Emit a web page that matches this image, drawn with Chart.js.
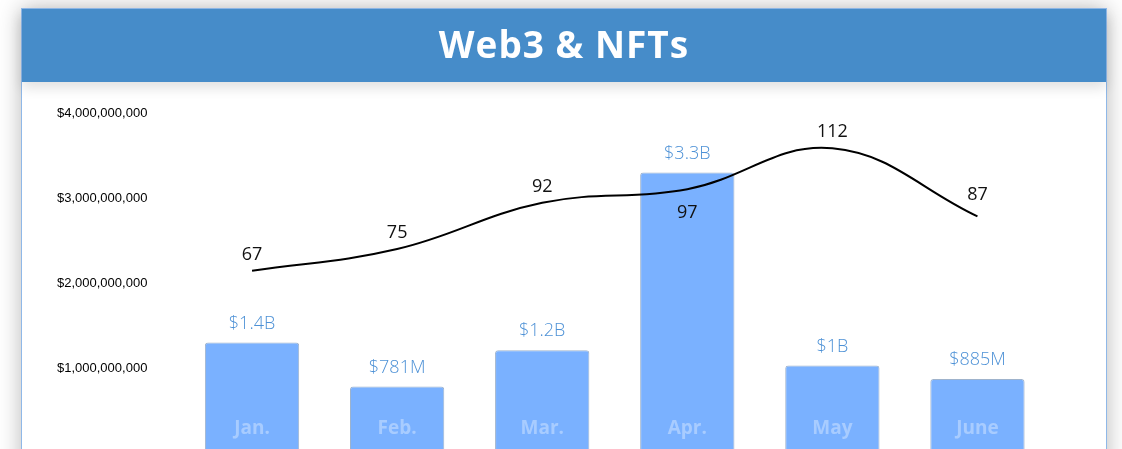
<!DOCTYPE html>
<html>
<head>
<meta charset="utf-8">
<script src="https://cdn.jsdelivr.net/npm/chart.js@4.4.1/dist/chart.umd.min.js"></script>
<style>
  html, body { margin: 0; padding: 0; background: #fff; overflow: hidden; }
  .card {
    position: absolute; left: 21px; top: 8px; width: 1084px; height: 600px;
    border: 1px solid #8fb8e8; background: #fff;
    box-shadow: 0 0 22px rgba(0,0,0,0.28);
  }
  .head {
    height: 73px; background: #468cc9; color: #fff;
    font-family: 'Open Sans', 'DejaVu Sans', sans-serif; font-weight: 700; font-size: 37px;
    letter-spacing: 1px; padding-bottom: 4px; box-sizing: border-box;
    display: flex; align-items: center; justify-content: center;
    box-shadow: 0 6px 12px rgba(0,0,0,0.12); position: relative; z-index: 1;
  }
  .wrap { position: absolute; left: 0; top: 73px; width: 1084px; height: 400px; }
</style>
</head>
<body>
<div class="card">
  <div class="head">Web3 &amp; NFTs</div>
  <div class="wrap"><canvas id="c"></canvas></div>
</div>
<script>
const months = ['Jan.', 'Feb.', 'Mar.', 'Apr.', 'May', 'June'];
const volume = [1.3e9, 0.781e9, 1.21e9, 3.3e9, 1.03e9, 0.87e9];
const volumeLabels = ['$1.4B', '$781M', '$1.2B', '$3.3B', '$1B', '$885M'];
const sales = [67, 75, 92, 97, 112, 87];
const yTicks = [1e9, 2e9, 3e9, 4e9];

const labelFont = "'Open Sans', 'DejaVu Sans', sans-serif";

// draws the value labels and the month names inside the bars
const labelPlugin = {
  id: 'labels',
  afterDatasetsDraw(chart) {
    const ctx = chart.ctx;
    const pts = chart.getDatasetMeta(0).data;
    const bars = chart.getDatasetMeta(1).data;
    ctx.save();
    ctx.textAlign = 'center';
    ctx.textBaseline = 'middle';
    bars.forEach((b, i) => {
      ctx.font = '700 19px ' + labelFont;
      ctx.fillStyle = 'rgba(255,255,255,0.35)';
      ctx.fillText(months[i], b.x, b.base - 24);
      ctx.font = '300 18px ' + labelFont;
      ctx.fillStyle = '#4d91d6';
      ctx.fillText(volumeLabels[i], b.x, b.y - 19);
    });
    pts.forEach((p, i) => {
      ctx.font = '400 18px ' + labelFont;
      ctx.fillStyle = '#111';
      let dy = -16;
      if (i === 3) dy = 24;
      if (i === 5) dy = -21;
      ctx.fillText(String(sales[i]), p.x, p.y + dy);
    });
    ctx.restore();
  }
};

new Chart(document.getElementById('c'), {
  data: {
    labels: months,
    datasets: [
      {
        type: 'line',
        data: sales,
        yAxisID: 'y2',
        borderColor: '#000',
        borderWidth: 2,
        pointRadius: 0,
        tension: 0.4,
        fill: false,
        order: 0
      },
      {
        type: 'bar',
        data: volume,
        yAxisID: 'y',
        backgroundColor: '#7ab1ff',
        borderColor: '#9fb3cc',
        borderWidth: 1,
        borderRadius: 3,
        borderSkipped: 'bottom',
        barPercentage: 0.65,
        categoryPercentage: 1,
        order: 1
      }
    ]
  },
  options: {
    responsive: true,
    maintainAspectRatio: false,
    animation: false,
    layout: { padding: { left: 35, right: 56, top: 31, bottom: 29 } },
    plugins: { legend: { display: false }, tooltip: { enabled: false } },
    scales: {
      x: { display: false },
      y: {
        min: 0, max: 4e9,
        afterBuildTicks(s) { s.ticks = yTicks.map(v => ({ value: v })); },
        afterFit(s) { s.width = 122.5; },
        grid: { display: false },
        border: { display: false },
        ticks: {
          crossAlign: 'far',
          color: '#000',
          font: { family: "'Liberation Sans', Arial, sans-serif", size: 13 },
          callback: v => '$' + Number(v).toLocaleString('en-US')
        }
      },
      y2: { display: false, min: 0, max: 125 }
    }
  },
  plugins: [labelPlugin]
});
</script>
</body>
</html>
